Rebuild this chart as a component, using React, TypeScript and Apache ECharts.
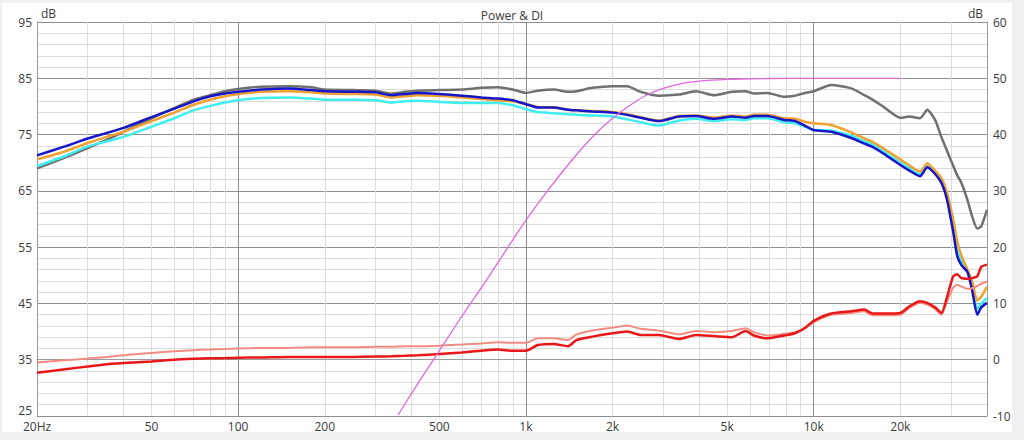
import React, { useEffect, useRef } from "react";
import * as echarts from "echarts";

// Frequencies (Hz) shared by the measured curves
const FREQ = [20, 25, 30, 35, 40, 50, 60, 70, 80, 90, 100, 120, 150, 180, 200, 250, 300, 340, 380, 420, 500, 600, 700, 800, 900, 1000, 1100, 1250, 1400, 1500, 1700, 2000, 2250, 2500, 2900, 3400, 3900, 4500, 5200, 5800, 6200, 6900, 7900, 8600, 9300, 10000, 11500, 13500, 15000, 16000, 17500, 20000, 21500, 23400, 24800, 26400, 27800, 29000, 30500, 31500, 32600, 34200, 35500, 37000, 38200, 40000];

// Left axis (dB)
const GRAY = [69.0, 70.9, 72.6, 74.1, 75.5, 77.9, 79.7, 81.2, 82.0, 82.7, 83.1, 83.5, 83.6, 83.4, 83.0, 82.9, 82.8, 82.3, 82.6, 82.8, 82.9, 83.0, 83.3, 83.4, 83.0, 82.4, 82.8, 83.0, 82.6, 82.7, 83.3, 83.6, 83.6, 82.6, 81.9, 82.1, 82.7, 82.0, 82.6, 82.7, 82.3, 82.4, 81.7, 81.9, 82.4, 82.7, 83.8, 83.2, 82.0, 81.2, 79.9, 78.0, 78.2, 77.9, 79.4, 77.6, 74.5, 72.2, 69.5, 67.8, 66.4, 63.4, 60.5, 58.3, 58.7, 61.6];
const BLUE = [71.3, 72.9, 74.3, 75.3, 76.2, 78.1, 79.6, 80.9, 81.8, 82.3, 82.6, 83.0, 83.2, 82.9, 82.7, 82.6, 82.5, 82.0, 82.2, 82.4, 82.2, 81.9, 81.6, 81.4, 81.1, 80.4, 79.8, 79.8, 79.4, 79.3, 79.1, 78.9, 78.5, 78.0, 77.4, 78.2, 78.3, 77.8, 78.2, 78.0, 78.3, 78.3, 77.6, 77.4, 76.6, 75.8, 75.5, 74.4, 73.4, 72.8, 71.6, 69.6, 68.6, 67.6, 69.2, 68.0, 66.4, 63.6, 57.8, 53.5, 51.8, 50.6, 47.4, 43.0, 44.3, 45.1];
const ORANGE = [70.6, 72.0, 73.5, 74.6, 75.5, 77.4, 78.9, 80.3, 81.2, 81.8, 82.2, 82.6, 82.7, 82.5, 82.3, 82.2, 82.1, 81.6, 81.8, 82.0, 81.9, 81.6, 81.3, 81.1, 80.9, 80.4, 79.9, 79.8, 79.4, 79.3, 79.2, 79.0, 78.6, 78.1, 77.5, 78.3, 78.4, 78.0, 78.4, 78.2, 78.5, 78.5, 77.9, 77.8, 77.3, 77.0, 76.7, 75.4, 74.3, 73.7, 72.5, 70.6, 69.5, 68.4, 69.9, 68.6, 67.2, 64.8, 60.0, 56.0, 53.5, 51.0, 49.0, 45.5, 46.2, 48.0];
const CYAN = [69.4, 71.2, 72.9, 73.8, 74.6, 76.4, 77.9, 79.3, 80.1, 80.7, 81.1, 81.5, 81.6, 81.4, 81.2, 81.2, 81.1, 80.7, 80.9, 81.0, 80.8, 80.6, 80.6, 80.6, 80.2, 79.5, 79.0, 78.8, 78.6, 78.5, 78.4, 78.2, 77.7, 77.2, 76.6, 77.5, 77.8, 77.4, 77.7, 77.6, 77.9, 77.9, 77.2, 77.0, 76.4, 75.8, 75.7, 74.8, 73.8, 73.2, 72.0, 70.0, 69.0, 67.9, 69.4, 68.2, 66.7, 64.0, 58.5, 54.5, 52.5, 51.0, 48.0, 44.0, 45.0, 46.0];

// Right axis (DI, dB)
const RED = [-2.3, -1.7, -1.2, -0.8, -0.6, -0.3, 0.0, 0.15, 0.25, 0.3, 0.35, 0.4, 0.5, 0.5, 0.5, 0.5, 0.55, 0.6, 0.7, 0.8, 1.0, 1.3, 1.6, 1.8, 1.6, 1.6, 2.6, 2.8, 2.4, 3.5, 4.1, 4.7, 5.0, 4.4, 4.4, 3.7, 4.4, 4.2, 4.0, 5.1, 4.3, 3.8, 4.3, 4.7, 5.6, 6.9, 8.2, 8.6, 8.9, 8.2, 8.2, 8.3, 9.5, 10.4, 10.1, 9.3, 8.3, 11.0, 14.8, 15.2, 14.5, 14.4, 14.5, 14.8, 16.5, 16.9];
const PINK = [-0.5, -0.1, 0.2, 0.5, 0.8, 1.2, 1.5, 1.7, 1.8, 1.9, 2.0, 2.1, 2.1, 2.2, 2.2, 2.2, 2.3, 2.3, 2.4, 2.4, 2.5, 2.7, 2.9, 3.1, 3.0, 3.0, 3.8, 3.8, 3.5, 4.5, 5.2, 5.7, 6.1, 5.5, 5.2, 4.5, 5.1, 4.9, 5.1, 5.6, 4.9, 4.3, 4.6, 4.9, 5.6, 6.7, 8.0, 8.3, 8.6, 7.9, 7.9, 8.0, 9.2, 10.1, 9.8, 9.0, 8.0, 10.3, 12.8, 13.3, 13.0, 12.6, 12.7, 13.1, 13.5, 13.9];

// Magenta target curve (left axis)
const MAG_FREQ = [360, 400, 450, 500, 600, 700, 800, 900, 1000, 1200, 1400, 1600, 1800, 2000, 2300, 2600, 3000, 3500, 4000, 5000, 6000, 8000, 10000, 20000];
const MAG = [25.2, 29.0, 33.0, 36.6, 42.8, 47.8, 52.3, 56.3, 59.8, 65.3, 69.6, 73.1, 75.8, 77.9, 80.2, 81.9, 83.2, 84.1, 84.5, 84.8, 84.9, 85.0, 85.0, 85.0];

// Axis ticks
const X_MIN = 20;
const X_MAX = 40000;
const X_LABEL_FREQS = [20, 50, 100, 200, 500, 1000, 2000, 5000, 10000, 20000];
const X_MINOR_FREQS = [30, 40, 50, 60, 70, 80, 90, 200, 300, 400, 500, 600, 700, 800, 900, 2000, 3000, 4000, 5000, 6000, 7000, 8000, 9000, 20000, 30000];
const X_MAJOR_FREQS = [100, 1000, 10000];
const Y_MAJOR = [25, 35, 45, 55, 65, 75, 85, 95];
const Y_MINOR = [27, 29, 31, 33, 37, 39, 41, 43, 47, 49, 51, 53, 57, 59, 61, 63, 67, 69, 71, 73, 77, 79, 81, 83, 87, 89, 91, 93];

const FONT = "'Open Sans', 'Noto Sans', sans-serif";
const TXT = "#3a3a3a";
const MAJOR_C = "#8e8e8e";
const MINOR_C = "#dcdcdc";

const lg = (f: number) => Math.log10(f);

function fmtFreq(v: number): string {
  const f = Math.round(Math.pow(10, v));
  if (f === 20) return "20Hz";
  if (f >= 1000) return f / 1000 + "k";
  return String(f);
}

function pairs(fs: number[], vs: number[]) {
  return fs.map((f, i) => [lg(f), vs[i]]);
}

export default function App() {
  const ref = useRef<HTMLDivElement>(null);

  useEffect(() => {
    if (!ref.current) return;
    const chart = echarts.init(ref.current, undefined, { renderer: "svg" });

    const line = (name: string, data: any, color: string, width: number, yIdx: number) => ({
      name,
      type: "line",
      data,
      xAxisIndex: 0,
      yAxisIndex: yIdx,
      symbol: "none",
      showSymbol: false,
      smooth: 0.2,
      silent: true,
      lineStyle: { color, width },
      itemStyle: { color },
    });

    chart.setOption({
      animation: false,
      backgroundColor: "transparent",
      textStyle: { fontFamily: FONT },
      title: {
        text: "Power & DI",
        left: "center",
        top: 4,
        textStyle: { fontSize: 12, fontWeight: "normal", color: TXT, fontFamily: FONT },
      },
      grid: { left: 37, right: 37, top: 22, bottom: 24, containLabel: false, outerBoundsMode: "none" },
      xAxis: [
        {
          type: "value",
          min: lg(X_MIN),
          max: lg(X_MAX),
          position: "bottom",
          axisLine: { show: true, lineStyle: { color: "#9a9a9a", width: 1 } },
          axisTick: { show: false, customValues: X_MINOR_FREQS.map(lg) },
          splitLine: { show: true, lineStyle: { color: MINOR_C, width: 1 } },
          axisLabel: {
            show: true,
            customValues: X_LABEL_FREQS.map(lg),
            formatter: (v: number) => fmtFreq(v),
            color: TXT,
            fontSize: 12,
            fontFamily: FONT,
            lineHeight: 13,
            margin: 4,
          },
        },
        {
          type: "value",
          min: lg(X_MIN),
          max: lg(X_MAX),
          position: "bottom",
          axisLine: { show: false },
          axisTick: { show: false, customValues: X_MAJOR_FREQS.map(lg) },
          splitLine: { show: true, lineStyle: { color: MAJOR_C, width: 1 } },
          axisLabel: { show: false },
        },
      ],
      yAxis: [
        {
          type: "value",
          min: 25,
          max: 95,
          position: "left",
          axisLine: { show: true, lineStyle: { color: "#9a9a9a", width: 1 } },
          axisTick: { show: false, customValues: Y_MINOR },
          splitLine: { show: true, lineStyle: { color: MINOR_C, width: 1 } },
          axisLabel: { show: false },
        },
        {
          type: "value",
          min: 25,
          max: 95,
          position: "left",
          name: "dB",
          nameLocation: "end",
          nameGap: 3,
          nameTextStyle: { align: "left", color: TXT, fontSize: 12, fontFamily: FONT, padding: [0, 0, 0, 4] },
          axisLine: { show: false },
          axisTick: { show: false, customValues: Y_MAJOR },
          splitLine: { show: true, lineStyle: { color: MAJOR_C, width: 1 } },
          axisLabel: {
            show: true,
            customValues: Y_MAJOR,
            color: TXT,
            fontSize: 12,
            fontFamily: FONT,
            margin: 5,
            formatter: (v: number) => (v === 25 ? "{lo|25}" : String(v)),
            rich: { lo: { color: TXT, fontSize: 12, fontFamily: FONT, lineHeight: 13, padding: [0, 0, 11, 0] } },
          },
        },
        {
          type: "value",
          min: -10,
          max: 60,
          interval: 10,
          position: "right",
          name: "dB",
          nameLocation: "end",
          nameGap: 3,
          nameTextStyle: { align: "right", color: TXT, fontSize: 12, fontFamily: FONT, padding: [0, 4, 0, 0] },
          axisLine: { show: true, lineStyle: { color: "#9a9a9a", width: 1 } },
          axisTick: { show: false },
          splitLine: { show: false },
          axisLabel: { show: true, color: TXT, fontSize: 12, fontFamily: FONT, margin: 6 },
        },
      ],
      series: [
        line("Gray", pairs(FREQ, GRAY), "#707070", 2.5, 1),
        line("Cyan", pairs(FREQ, CYAN), "#40eef2", 2.5, 1),
        line("Orange", pairs(FREQ, ORANGE), "#f0a030", 2.5, 1),
        line("Blue", pairs(FREQ, BLUE), "#1616c8", 2.5, 1),
        line("Pink", pairs(FREQ, PINK), "#f28c82", 2, 2),
        line("Red", pairs(FREQ, RED), "#e81818", 2.5, 2),
        line("Magenta", pairs(MAG_FREQ, MAG), "#e068e0", 1.3, 1),
      ],
    });

    return () => chart.dispose();
  }, []);

  return (
    <div style={{ position: "absolute", left: 0, top: 0, width: 1024, height: 440, background: "#f0f0f0", overflow: "hidden" }}>
      <div style={{ position: "absolute", left: 2, top: 3, width: 1010, height: 429, background: "#ffffff" }} />
      <div ref={ref} style={{ position: "absolute", left: 0, top: 0, width: 1024, height: 440 }} />
    </div>
  );
}
